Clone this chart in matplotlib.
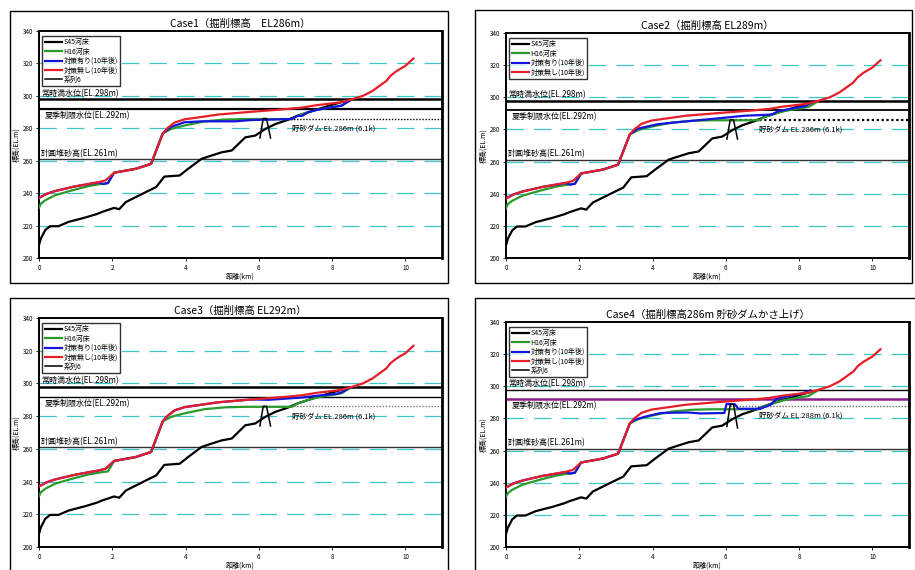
import matplotlib.pyplot as plt
from matplotlib.patches import Rectangle

plt.rcParams['font.family'] = ['Noto Sans CJK JP', 'DejaVu Sans']

# Longitudinal bed profiles: distance from dam (km) and bed elevation (EL.m)
s45_km = [0.0, 0.05, 0.17, 0.3, 0.53, 0.81, 1.27, 1.59, 1.73, 2.05, 2.19, 2.37, 2.83,
          3.2, 3.42, 3.84, 4.07, 4.44, 4.71, 4.99, 5.26, 5.63, 5.9, 6.18, 6.45, 6.78,
          7.05, 7.5, 8.0, 8.4]
s45_el = [208, 212, 217.2, 219.6, 219.6, 222.3, 225, 227.2, 228.5, 230.9, 230.1, 234.5,
          239.7, 243.8, 250.2, 250.9, 255, 261.2, 263.2, 265.2, 266.3, 274.4, 275.5,
          279.6, 282.6, 285.1, 287.7, 291, 294.5, 297]

h16_km = [0.0, 0.05, 0.17, 0.44, 0.9, 1.36, 1.73, 1.88, 2.05, 2.64, 3.01, 3.06, 3.38,
          3.61, 3.97, 4.53, 5.08, 5.6, 6.1, 6.9, 7.05, 7.33, 7.56, 7.83, 8.25, 8.48]
h16_el = [231, 233.5, 235.6, 238.7, 241.7, 244.4, 245.8, 246.2, 252.6, 255, 257.7,
          258.1, 276.9, 279.6, 281.7, 284.3, 285.4, 285.7, 285.7, 285.7, 287.7, 289.8,
          291.2, 292.4, 293.9, 297]

# without countermeasures, 10 years later
none_km = [0.0, 0.2, 0.44, 0.99, 1.63, 1.82, 2.05, 2.64, 3.01, 3.06, 3.38, 3.5, 3.7,
           3.97, 4.44, 4.9, 5.81, 6.73, 7.19, 7.56, 8.2, 8.48, 8.84, 9.1, 9.48, 9.6,
           9.76, 10.0, 10.22]
none_el = [237, 239.5, 241.3, 244.2, 246.8, 247.9, 252.6, 255, 257.7, 258.1, 276.9,
           280, 283.5, 285.5, 287, 288.5, 290.2, 291.8, 292.8, 294.2, 295.9, 297.5,
           300, 303, 309.2, 312.5, 315.3, 318.5, 323]

# with countermeasures, 10 years later (one profile per case)
case1_km = [0.0, 0.2, 0.44, 0.99, 1.63, 1.75, 1.88, 2.05, 2.64, 3.01, 3.06, 3.38, 3.6,
            3.97, 4.44, 5.35, 5.81, 6.91, 7.05, 7.19, 7.33, 7.56, 7.83, 8.25, 8.48]
case1_el = [237, 239.5, 241.3, 244.2, 246.6, 245.6, 246.2, 252.6, 255, 257.7, 258.1,
            276.9, 280.8, 283.7, 284.3, 284.3, 285.1, 285.7, 287.7, 287.7, 289.8, 291.2,
            292.4, 293.9, 297]
case2_km = [0.0, 0.2, 0.44, 0.99, 1.63, 1.75, 1.88, 2.05, 2.64, 3.01, 3.06, 3.38, 3.6,
            4.15, 5.06, 5.98, 6.5, 7.2, 7.26, 7.44, 8.17, 8.4]
case2_el = [237, 239.5, 241.3, 244.2, 246.6, 245.6, 246.2, 252.6, 255, 257.7, 258.1,
            276.9, 280.5, 283.3, 285.3, 287.3, 288.5, 289.2, 289.4, 291.4, 294.5, 297.5]
case3_km = [0.0, 0.2, 0.44, 0.99, 1.63, 1.82, 2.05, 2.64, 3.01, 3.06, 3.38, 3.5, 3.7,
            3.97, 4.44, 4.9, 5.81, 6.27, 6.73, 7.18, 7.6, 8.1, 8.28, 8.48]
case3_el = [237, 239.5, 241.3, 244.2, 246.8, 247.9, 252.6, 255, 257.7, 258.1, 276.9,
            280, 283.5, 285.5, 287, 288.5, 290.2, 290, 290.7, 291.4, 292.5, 293.5, 294.7,
            297.5]
case4_km = [0.0, 0.2, 0.44, 0.99, 1.63, 1.75, 1.88, 2.05, 2.64, 3.01, 3.06, 3.38, 3.5,
            3.78, 4.23, 4.96, 5.32, 5.96, 6.02, 6.25, 6.34, 6.94, 7.21, 7.4, 8.08, 8.31]
case4_el = [237, 239.5, 241.3, 244.2, 246.6, 245.6, 246.2, 252.6, 255, 257.7, 258.1,
            276.9, 279, 281, 283.4, 283.7, 283.1, 283.4, 289, 288.8, 286, 286, 288.4,
            292.4, 295.5, 297.5]

# sand-retention dam outline at 6.1k
dam_km = [6.03, 6.12, 6.21, 6.32]
dam_el = [274, 286, 286, 274]
dam_el_raised = [275, 288.8, 288.8, 274]

titles = ['Case1（掘削標高　EL286m）', 'Case2（掘削標高 EL289m）',
          'Case3（掘削標高 EL292m）', 'Case4（掘削標高286m 貯砂ダムかさ上げ）']
dam_crest = [286, 286, 286, 288]
series_names = ['S45河床', 'H16河床', '対策有り(10年後)', '対策無し(10年後)', '系列6']

normal_level = 298
summer_level = 292
sediment_level = 261

grid_levels = [220, 240, 260, 280, 300, 320]
x_ticks = [0, 2, 4, 6, 8, 10]
y_ticks = [200, 220, 240, 260, 280, 300, 320, 340]

W, H = 915, 570


def frac_box(x0, y0, x1, y1):
    """Pixel box (top-left origin) -> figure-fraction [left, bottom, width, height]."""
    return [x0 / W, 1 - y1 / H, (x1 - x0) / W, (y1 - y0) / H]


def draw_case(fig, box, frame, title, prot_km, prot_el, crest, dam_y,
              summer_color='black', normal_lw=1.8, summer_lw=1.3,
              show_dam_legend=True, dot_color='black', dot_lw=1.0):
    fig.patches.append(Rectangle((frame[0], frame[1]), frame[2], frame[3],
                                 transform=fig.transFigure, fill=False,
                                 edgecolor='black', lw=1.0))
    ax = fig.add_axes(box)
    ax.set_xlim(0, 11)
    ax.set_ylim(200, 340)

    for g in grid_levels:
        ax.axhline(g, color='#3cc8c8', lw=0.9, ls=(0, (14, 8)), zorder=1)

    ax.axhline(normal_level, color='black', lw=normal_lw, zorder=2)
    ax.axhline(summer_level, color=summer_color, lw=summer_lw, zorder=2)
    ax.axhline(sediment_level, color='#333333', lw=1.0, zorder=2)
    ax.hlines(crest, dam_km[1], 11, colors=dot_color, linestyles=(0, (1, 1.2)),
              lw=dot_lw, zorder=2)

    ax.plot(s45_km, s45_el, color='black', lw=1.6, label=series_names[0], zorder=3)
    ax.plot(h16_km, h16_el, color='#2a9a2a', lw=1.6, label=series_names[1], zorder=4)
    ax.plot(prot_km, prot_el, color='#1414dc', lw=1.6, label=series_names[2], zorder=5)
    ax.plot(none_km, none_el, color='#e61e28', lw=1.6, label=series_names[3], zorder=6)
    ax.plot(dam_km, dam_y, color='black', lw=1.1,
            label=series_names[4] if show_dam_legend else '_nolegend_', zorder=7)

    ax.text(0.05, normal_level + 0.8, '常時満水位(EL.298m)', fontsize=5.8, va='bottom')
    ax.text(0.15, summer_level - 1.5, '夏季制限水位(EL.292m)', fontsize=5.8, va='top')
    ax.text(0.05, sediment_level + 0.8, '計画堆砂高(EL.261m)', fontsize=5.8, va='bottom')
    ax.text(6.9, crest - 6, f'貯砂ダム EL.{crest}m (6.1k)', fontsize=5.4, va='center')

    ax.set_title(title, fontsize=7.5, pad=3)
    ax.set_xlabel('距離(km)', fontsize=5, labelpad=1)
    ax.set_ylabel('標高(EL.m)', fontsize=5, labelpad=2)
    ax.set_xticks(x_ticks)
    ax.set_yticks(y_ticks)
    ax.tick_params(labelsize=4.5, length=2, width=0.6, pad=2)
    for side in ax.spines.values():
        side.set_linewidth(1.4)
    ax.spines['right'].set_linewidth(2.0)

    leg = ax.legend(loc='upper left', fontsize=5, handlelength=2.4, handletextpad=0.3,
                    labelspacing=0.2, borderpad=0.35, fancybox=False,
                    bbox_to_anchor=(0.005, 0.985), borderaxespad=0.2)
    leg.get_frame().set_edgecolor('black')
    leg.get_frame().set_linewidth(1.0)
    return ax


fig = plt.figure(figsize=(9.15, 5.70), dpi=100)

draw_case(fig, frac_box(39, 31, 442, 258), frac_box(10, 11, 448, 283),
          titles[0], case1_km, case1_el, dam_crest[0], dam_el, summer_lw=1.6)
draw_case(fig, frac_box(506, 33, 909, 258), frac_box(475, 10, 912, 283),
          titles[1], case2_km, case2_el, dam_crest[1], dam_el,
          show_dam_legend=False, dot_lw=1.6)
draw_case(fig, frac_box(39, 318, 442, 547), frac_box(10, 298, 448, 578),
          titles[2], case3_km, case3_el, dam_crest[2], dam_el,
          summer_lw=1.0, dot_color='#777777')
draw_case(fig, frac_box(506, 322, 909, 547), frac_box(475, 298, 918, 578),
          titles[3], case4_km, case4_el, dam_crest[3], dam_el_raised,
          summer_color='#8b1a8b', normal_lw=1.0, summer_lw=1.8, dot_color='#666666')

fig.savefig('out.png', dpi=100)
